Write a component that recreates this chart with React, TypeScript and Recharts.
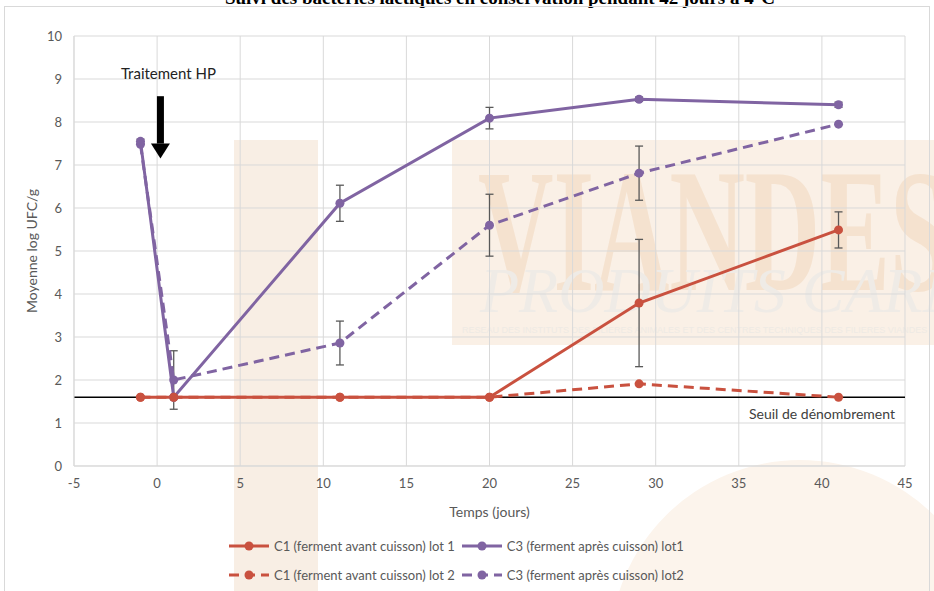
import {
  CartesianGrid,
  ErrorBar,
  Line,
  LineChart,
  ReferenceLine,
  XAxis,
  YAxis
} from "recharts";

// days of storage (x) and mean log UFC/g per series
const days = [-1, 1, 11, 20, 29, 41];
const c1Lot1 = [1.6, 1.6, 1.6, 1.6, 3.79, 5.49];
const c1Lot1Err = [null, null, null, null, 1.48, 0.42];
const c3Lot1 = [7.55, 1.6, 6.11, 8.09, 8.53, 8.4];
const c3Lot1Err = [0.05, null, 0.42, 0.25, 0.05, 0.06];
const c1Lot2 = [1.6, 1.6, 1.6, 1.6, 1.91, 1.6];
const c3Lot2 = [7.48, 2.0, 2.86, 5.6, 6.81, 7.95];
const c3Lot2Err = [null, 0.68, 0.51, 0.72, 0.63, null];

const xTicks = [-5, 0, 5, 10, 15, 20, 25, 30, 35, 40, 45];
const yTicks = [0, 1, 2, 3, 4, 5, 6, 7, 8, 9, 10];
const threshold = 1.6;

const RED = "#C9513F";
const PURPLE = "#8064A2";
const TEXT = "#595959";

const data = days.map((day, i) => ({
  day,
  c1Lot1: c1Lot1[i],
  c1Lot1Err: c1Lot1Err[i],
  c3Lot1: c3Lot1[i],
  c3Lot1Err: c3Lot1Err[i],
  c1Lot2: c1Lot2[i],
  c3Lot2: c3Lot2[i],
  c3Lot2Err: c3Lot2Err[i]
}));

type Series = { key: string; name: string; color: string; dashed: boolean; err?: string };

const series: Series[] = [
  { key: "c1Lot2", name: "C1 (ferment avant cuisson) lot 2", color: RED, dashed: true },
  { key: "c3Lot2", name: "C3 (ferment après cuisson) lot2", color: PURPLE, dashed: true, err: "c3Lot2Err" },
  { key: "c3Lot1", name: "C3 (ferment après cuisson) lot1", color: PURPLE, dashed: false, err: "c3Lot1Err" },
  { key: "c1Lot1", name: "C1 (ferment avant cuisson) lot 1", color: RED, dashed: false, err: "c1Lot1Err" }
];

// legend order as in the figure
const legendOrder = ["c1Lot1", "c3Lot1", "c1Lot2", "c3Lot2"];

function LegendIcon({ color, dashed }: { color: string; dashed: boolean }) {
  return (
    <svg width={42} height={10} style={{ marginRight: 4 }}>
      <line
        x1={1}
        y1={5}
        x2={41}
        y2={5}
        stroke={color}
        strokeWidth={3}
        strokeDasharray={dashed ? "10 6" : undefined}
      />
      <circle cx={21} cy={5} r={4.5} fill={color} />
    </svg>
  );
}

// faint logo behind the plot
function Watermark() {
  return (
    <svg width={934} height={591} style={{ position: "absolute", left: 0, top: 0 }}>
      <rect x={234} y={140} width={84} height={460} fill="#f8eee4" />
      <rect x={452} y={140} width={490} height={205} fill="#faf0e6" />
      <circle cx={800} cy={650} r={190} fill="#fcf4ec" />
      <text
        x={478}
        y={290}
        fontFamily="Liberation Serif"
        fontWeight="bold"
        fontSize={175}
        textLength={470}
        lengthAdjust="spacingAndGlyphs"
        fill="#f5e2cf"
      >
        VIANDES
      </text>
      <text
        x={480}
        y={312}
        fontFamily="Liberation Serif"
        fontStyle="italic"
        fontSize={64}
        fill="#efebe6"
      >
        PRODUITS CARNES
      </text>
      <text x={462} y={333} fontFamily="Liberation Sans" fontSize={9} fill="#eeeae4">
        RESEAU DES INSTITUTS DES FILIERES ANIMALES ET DES CENTRES TECHNIQUES DES FILIERES VIANDES
      </text>
      <text
        x={500}
        y={4}
        textAnchor="middle"
        fontFamily="Liberation Serif"
        fontWeight="bold"
        fontSize={19}
        fill="#000"
      >
        Suivi des bactéries lactiques en conservation pendant 42 jours à 4°C
      </text>
      <rect x={4.5} y={6.5} width={925} height={600} fill="none" stroke="#d9d9d9" />
    </svg>
  );
}

export default function App() {
  return (
    <div
      style={{
        position: "absolute",
        left: 0,
        top: 0,
        width: 934,
        height: 591,
        overflow: "hidden",
        background: "#fff",
        fontFamily: "Lato, sans-serif"
      }}
    >
      <Watermark />
      <div style={{ position: "absolute", left: 0, top: 0 }}>
        <LineChart
          width={934}
          height={591}
          data={data}
          margin={{ top: 36, right: 29, left: 0, bottom: 70 }}
        >
          <CartesianGrid stroke="#d9d9d9" />
          <XAxis
            dataKey="day"
            type="number"
            domain={[-5, 45]}
            ticks={xTicks}
            height={55}
            tickLine={false}
            axisLine={{ stroke: "#d9d9d9" }}
            tickMargin={7}
            tick={{ fontSize: 13, fill: TEXT }}
            label={{
              value: "Temps (jours)",
              position: "insideBottom",
              offset: 4,
              fontSize: 14,
              fill: TEXT
            }}
          />
          <YAxis
            type="number"
            domain={[0, 10]}
            ticks={yTicks}
            width={74}
            tickLine={false}
            axisLine={{ stroke: "#d9d9d9" }}
            tickMargin={6}
            tick={{ fontSize: 13, fill: TEXT }}
            label={{
              value: "Moyenne log UFC/g",
              angle: -90,
              position: "center",
              dx: -5,
              fontSize: 14,
              fill: TEXT
            }}
          />
          <ReferenceLine
            y={threshold}
            stroke="#000"
            strokeWidth={1.5}
            label={(p: any) => {
              const vb = p.viewBox || {};
              return (
                <text
                  x={(vb.x ?? 0) + (vb.width ?? 0) - 10}
                  y={(vb.y ?? 0) + 22}
                  textAnchor="end"
                  fontSize={14}
                  fill="#404040"
                >
                  Seuil de dénombrement
                </text>
              );
            }}
          />
          <ReferenceLine
            segment={[
              { x: 0.2, y: 8.6 },
              { x: 0.2, y: 7.15 }
            ]}
            shape={(p: any) => {
              const { x1, y1, y2 } = p;
              const headTop = y2 - 15;
              return (
                <g>
                  <rect x={x1 - 3.5} y={y1} width={7} height={headTop - y1} fill="#000" />
                  <polygon
                    points={`${x1 - 9.5},${headTop} ${x1 + 9.5},${headTop} ${x1},${y2}`}
                    fill="#000"
                  />
                  <text
                    x={x1 + 8}
                    y={y1 - 17}
                    textAnchor="middle"
                    fontSize={15}
                    fill="#222"
                  >
                    Traitement HP
                  </text>
                </g>
              );
            }}
          />
          {series.map((s) => (
            <Line
              key={s.key}
              dataKey={s.key}
              name={s.name}
              type="linear"
              stroke={s.color}
              strokeWidth={3}
              strokeDasharray={s.dashed ? "10 6" : undefined}
              dot={{ r: 4.5, fill: s.color, stroke: s.color, strokeWidth: 0 }}
              activeDot={false}
              isAnimationActive={false}
            >
              {s.err ? (
                <ErrorBar
                  dataKey={s.err}
                  direction="y"
                  width={4}
                  stroke="#595959"
                  strokeWidth={1.3}
                  isAnimationActive={false}
                />
              ) : null}
            </Line>
          ))}
        </LineChart>
      </div>
      <div
        style={{
          position: "absolute",
          left: 228,
          top: 538,
          display: "grid",
          gridTemplateColumns: "auto auto",
          columnGap: 6,
          rowGap: 13,
          fontSize: 13,
          color: TEXT
        }}
      >
        {legendOrder.map((k) => {
          const s = series.find((x) => x.key === k)!;
          return (
            <div key={k} style={{ display: "flex", alignItems: "center", whiteSpace: "nowrap" }}>
              <LegendIcon color={s.color} dashed={s.dashed} />
              <span>{s.name}</span>
            </div>
          );
        })}
      </div>
    </div>
  );
}
